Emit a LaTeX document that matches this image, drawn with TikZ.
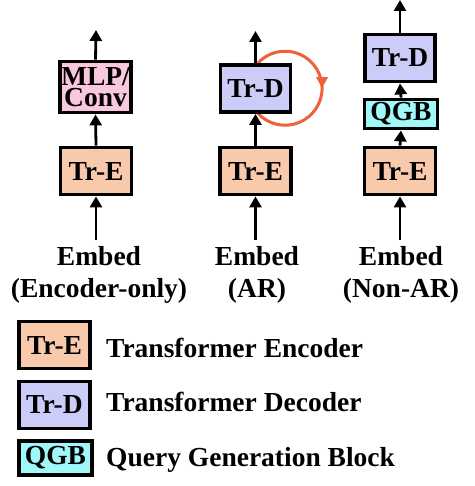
\documentclass[tikz,border=0pt]{standalone}
\usepackage{fontspec}
\setmainfont{Liberation Serif}
\usetikzlibrary{arrows.meta,decorations.markings}
\definecolor{encfill}{HTML}{F8C9AA}
\definecolor{decfill}{HTML}{CCCCF8}
\definecolor{mlpfill}{HTML}{F9C8DC}
\definecolor{qgbfill}{HTML}{A0F8F8}
\definecolor{loopred}{HTML}{F0603A}
\tikzset{
  blk/.style={draw=black, line width=3.8pt, inner sep=0pt, align=center,
    font=\fontsize{27.5}{21.5}\selectfont\bfseries},
  enc/.style={blk, fill=encfill, minimum width=71pt, minimum height=47pt},
  dec/.style={blk, fill=decfill, minimum width=70pt, minimum height=47pt},
  mlp/.style={blk, fill=mlpfill, minimum width=71pt, minimum height=51pt},
  qgb/.style={blk, fill=qgbfill, minimum width=73pt, minimum height=29pt},
  flow/.style={line width=2.8pt, -{Triangle[width=12pt,length=11pt]}},
  lbl/.style={inner sep=0pt, align=center, font=\fontsize{27.5}{32}\selectfont\bfseries},
  legtxt/.style={inner sep=0pt, anchor=base west, font=\fontsize{27.5}{32}\selectfont\bfseries},
  loop/.style={draw=loopred, line width=3pt,
    postaction={decorate},
    decoration={markings, mark=at position 0.5 with {\arrow{Triangle[width=11pt,length=11pt]}}}}
}
\begin{document}
\begin{tikzpicture}[x=1pt,y=1pt]
\useasboundingbox (0,0) rectangle (474,-486);
% loop arc (behind boxes)
\draw[loop, fill=none] (258,-63) arc[start angle=137, end angle=-137, radius=37];
% column 1
\node[enc] (tre1) at (96,-171) {Tr-E};
\node[mlp] (mlp1) at (95.5,-87) {MLP/\\Conv};
\coordinate (in1) at (96,-240);
\coordinate (out1) at (96,-30);
\node[lbl] (emb1) at (99,-275) {Embed\\(Encoder-only)};
% column 2
\node[enc] (tre2) at (255.5,-171) {Tr-E};
\node[dec] (trd2) at (255.5,-88.5) {Tr-D};
\coordinate (in2) at (255.5,-240);
\coordinate (out2) at (255.5,-31);
\node[lbl] (emb2) at (257,-275) {Embed\\(AR)};
% column 3
\node[enc] (tre3) at (400,-171) {Tr-E};
\node[qgb] (qgb3) at (401,-114) {QGB};
\node[dec] (trd3) at (400,-58) {Tr-D};
\coordinate (in3) at (400,-240);
\coordinate (out3) at (400,0);
\node[lbl] (emb3) at (401,-275) {Embed\\(Non-AR)};
% connectors
\draw[flow] (in1) -- (tre1.south);
\draw[flow] (tre1.north) -- (mlp1.south);
\draw[flow] (mlp1.north) -- (out1);
\draw[flow] (in2) -- (tre2.south);
\draw[flow] (tre2.north) -- (trd2.south);
\draw[flow] (trd2.north) -- (out2);
\draw[flow] (in3) -- (tre3.south);
\draw[flow] (tre3.north) -- (qgb3.south);
\draw[flow] (qgb3.north) -- (trd3.south);
\draw[flow] (trd3.north) -- (out3);
% legend
\node[enc] (legE) at (54.5,-345) {Tr-E};
\node[dec, minimum width=71pt] (legD) at (54.5,-405) {Tr-D};
\node[qgb, minimum width=73pt, minimum height=34pt] (legQ) at (55.5,-458) {QGB};
\node[legtxt] (txtE) at (106,-357) {Transformer Encoder};
\node[legtxt] (txtD) at (106,-411) {Transformer Decoder};
\node[legtxt] (txtQ) at (106,-466) {Query Generation Block};
\end{tikzpicture}
\end{document}
